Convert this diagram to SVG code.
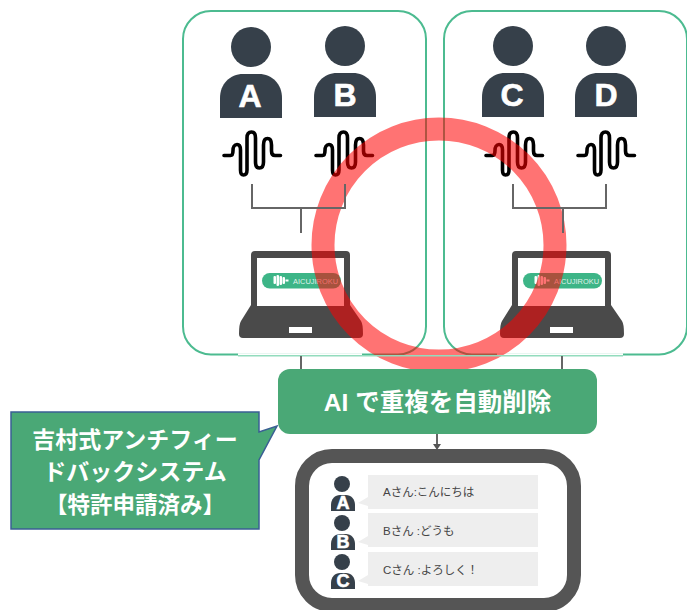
<svg xmlns="http://www.w3.org/2000/svg" width="687" height="610" viewBox="0 0 687 610">
<style>
text{font-family:"Liberation Sans","Noto Sans CJK JP",sans-serif}
.frame{fill:#fff;stroke:#4cbb90;stroke-width:2}
.pale{fill:none;stroke:#93dcbd;stroke-width:1.6}
.line{fill:none;stroke:#666;stroke-width:2}
.dark{fill:#36404a}
.letter{fill:#fff;font-weight:700;text-anchor:middle;stroke:#fff;stroke-width:.6}
.wave{fill:none;stroke:#000;stroke-width:3.6;stroke-linecap:round;stroke-linejoin:round}
.lap{fill:#4a4a4a}
.bub{fill:#eee}
.chat{font-size:11.5px;fill:#444}
.jp{font-weight:700;fill:#fff;text-anchor:middle}
</style>
<defs>
<path id="wave" d="M224 155.5H230.500C233 155.500 233 153 233 150.500C233 147 234.500 144.500 237 144.500C239.500 144.500 240.500 147 240.500 150V170C240.500 173 241.500 175 243.500 175C245.800 175 247 173 247 170V138C247 134 249 132 251.500 132C254.200 132 255.500 134 255.500 138V162C255.500 166 257 168 259.500 168C262 168 263.500 166 263.500 162V145C263.500 141 265 138.500 267.500 138.500C270 138.500 271.500 141 271.500 145V151C271.500 154 272.500 155.500 275 155.500H280.500"/>
<path id="body" d="M0 44V24C0 10 10 0 23 0H39C52 0 62 10 62 24V44Z"/>
<path id="mini" d="M0 16V10C0 4 4 0 9 0H15C20 0 24 4 24 10V16Z"/>
<g id="laptop">
<path class="lap" d="M251 305V255Q251 251 255 251H346Q350 251 350 255V305L361 321Q363 324 363 334Q363 338 359 338H243Q239 338 239 334Q239 324 241 321Z"/>
<rect x="257" y="258" width="87" height="48" fill="#fff"/>
<rect x="289" y="327" width="23" height="6" fill="#fff"/>
<rect x="262" y="273" width="79" height="15.500" rx="7.750" fill="#3db587"/>
<g fill="#fff"><rect x="273.500" y="276" width="2.500" height="8" rx="1"/><rect x="276.500" y="275" width="2.500" height="11" rx="1"/><rect x="279.500" y="276" width="2.500" height="9" rx="1"/><rect x="282.500" y="277" width="2.500" height="7" rx="1"/><rect x="285.500" y="279.500" width="3" height="2"/></g>
<text x="293" y="283.500" font-size="7.500" fill="#fff" fill-opacity=".85" textLength="45" lengthAdjust="spacingAndGlyphs">AICUJIROKU</text>
</g>
<path id="tail" d="M368 497L358 503L368 506Z"/>
</defs>

<g id="box-left"><rect class="frame" x="183" y="11" width="243" height="343.500" rx="28"/><path d="M238 354.500H362" stroke="#fff" stroke-width="2.400"/></g>
<g id="box-right"><rect class="frame" x="444" y="11" width="243" height="343.500" rx="28"/><path d="M497 354.500H623" stroke="#fff" stroke-width="2.400"/></g>

<g id="person-a"><circle class="dark" cx="251" cy="47" r="20"/><use href="#body" class="dark" x="220" y="74"/><text class="letter" x="250" y="107" font-size="32">A</text><use href="#wave" class="wave"/></g>
<g id="person-b"><circle class="dark" cx="345" cy="46" r="20"/><use href="#body" class="dark" x="314" y="73"/><text class="letter" x="345" y="106" font-size="32">B</text><use href="#wave" class="wave" x="92"/></g>
<g id="person-c"><circle class="dark" cx="513" cy="46" r="20"/><use href="#body" class="dark" x="482" y="73"/><text class="letter" x="512" y="106" font-size="32">C</text><use href="#wave" class="wave" x="262"/></g>
<g id="person-d"><circle class="dark" cx="606" cy="46" r="20"/><use href="#body" class="dark" x="575" y="73"/><text class="letter" x="606" y="106" font-size="32">D</text><use href="#wave" class="wave" x="354"/></g>

<g id="laptop-left"><use href="#laptop"/></g>
<g id="laptop-right"><use href="#laptop" x="261"/></g>

<g id="ring"><circle cx="439" cy="245" r="116" fill="none" stroke="#ff0000" stroke-opacity=".55" stroke-width="23"/></g>

<g id="connectors">
<path class="pale" d="M238 355.800H623"/>
<path class="line" d="M252 184V208H345V184M301 208V233"/>
<path class="line" d="M513 184V208H606V184M563 208V233"/>
<path class="line" d="M301 356V369M562 356V369"/>
<path class="line" d="M437 434V445"/>
<path d="M433 444H441L437 450Z" fill="#555"/>
</g>

<g id="ai-box"><rect x="278" y="369" width="319" height="65" rx="12" fill="#4aa876"/><text class="jp" x="437.500" y="411" font-size="24.500">AI で重複を自動削除</text></g>

<g id="callout"><path d="M11 412H259V432L277 426L259 460V529H11Z" fill="#4aa876" stroke="#3a5f94" stroke-width="1.500"/>
<text class="jp" x="135" y="448" font-size="23">吉村式アンチフィー</text>
<text class="jp" x="135" y="480" font-size="23">ドバックシステム</text>
<text class="jp" x="135" y="513" font-size="22.500">【特許申請済み】</text></g>

<g id="screen"><rect x="302" y="456" width="272" height="149" rx="30" fill="#fff" stroke="#555" stroke-width="14"/>
<rect class="bub" x="368" y="475" width="170" height="34"/><use href="#tail" class="bub"/>
<rect class="bub" x="368" y="513" width="170" height="34"/><use href="#tail" class="bub" y="39"/>
<rect class="bub" x="368" y="552" width="170" height="34"/><use href="#tail" class="bub" y="78"/>
<text class="chat" x="383" y="496">Aさん:こんにちは</text>
<text class="chat" x="383" y="535">Bさん :どうも</text>
<text class="chat" x="383" y="574">Cさん :よろしく！</text>
<g id="chat-a"><circle class="dark" cx="342" cy="484" r="8"/><use href="#mini" class="dark" x="331" y="495"/><text class="letter" x="343" y="509" font-size="18">A</text></g>
<g id="chat-b"><circle class="dark" cx="342" cy="523" r="8"/><use href="#mini" class="dark" x="331" y="534"/><text class="letter" x="343" y="548" font-size="18">B</text></g>
<g id="chat-c"><circle class="dark" cx="342" cy="562" r="8"/><use href="#mini" class="dark" x="331" y="573"/><text class="letter" x="343" y="587" font-size="18">C</text></g>
</g>
</svg>
